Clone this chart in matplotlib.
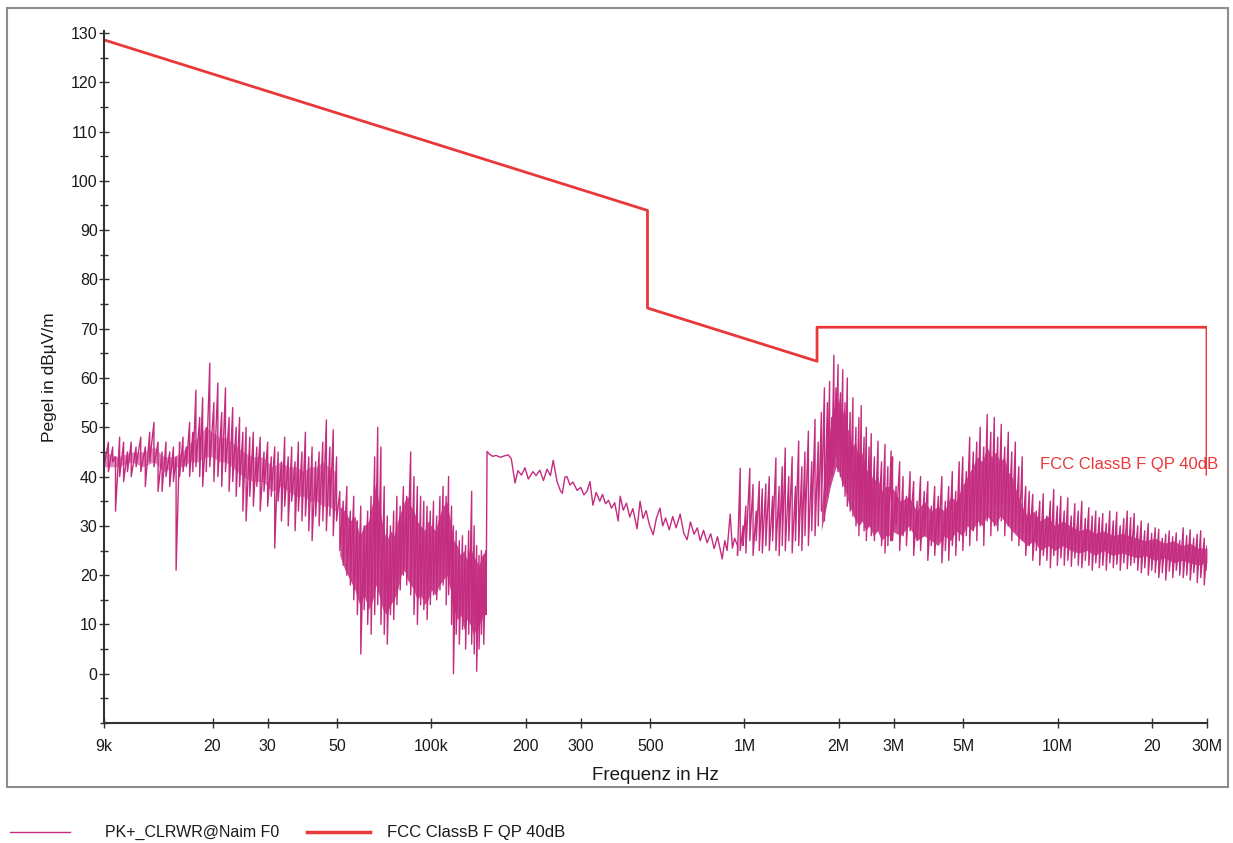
import numpy as np
import matplotlib
matplotlib.use("Agg")
import matplotlib.pyplot as plt
from matplotlib.lines import Line2D
from matplotlib.patches import Rectangle
from matplotlib.ticker import FixedLocator, MultipleLocator, NullLocator

plt.rcParams['font.family'] = ['Liberation Sans', 'DejaVu Sans']

# FCC Class B limit (QP, 40 dB extrapolation)
limit_hz = [9e3, 490e3, 490e3, 1.705e6, 1.705e6, 30e6, 30e6]
limit_db = [128.6, 94.0, 74.2, 63.4, 70.3, 70.3, 40.5]

# PK+ sweep.
# Noisy parts: per frequency slot the spike top (hi) and the valley after it (lo), dBuV/m
# 9k .. 50k
a_khz = [9.0, 9.3, 9.6, 9.8, 10.1, 10.4, 10.7, 11.0, 11.4, 11.8, 12.2, 12.6, 13.0, 13.4,
         13.8, 14.2, 14.6, 15.0, 15.3, 15.7, 16.1, 16.5, 16.9, 17.3, 17.7, 18.2, 18.6, 19.1,
         19.6, 20.2, 20.8, 21.4, 22.0, 22.6, 23.2, 23.8, 24.4, 25.0, 25.6, 26.3, 27.0, 27.7,
         28.4, 29.2, 30.0, 30.8, 31.6, 32.4, 33.2, 34.0, 34.9, 35.8, 36.7, 37.6, 38.6, 39.6,
         40.6, 41.6, 42.7, 43.8, 45.0, 46.2, 47.4, 48.6, 49.8]
a_hi = [51, 47, 46, 44, 48, 47, 45, 47, 46, 48, 46, 49, 51, 47,
        45, 47, 45, 46, 44, 47, 48, 46, 51, 49, 57.5, 52, 56, 50,
        63, 55, 59, 53, 58, 52, 54, 50, 52, 49, 50, 48, 49, 46,
        48, 45, 47, 44, 46, 45, 43, 48, 44, 46, 43, 47, 45, 49,
        44, 46, 43, 45, 47, 51.5, 46, 49.5, 44]
a_lo = [42, 41, 43, 33, 40, 39, 41, 40, 42, 41, 38, 43, 42, 37,
        37, 40, 38, 39, 21, 40, 41, 42, 40, 41, 42, 40, 38, 41,
        42, 39, 40, 38, 41, 37, 39, 36, 38, 33, 31, 36, 34, 38,
        33, 37, 34, 36, 25.5, 35, 31, 34, 30, 35, 29, 33, 31, 32,
        29, 27, 32, 30, 31, 29, 32, 28, 31]

# 50k .. 150k
b_khz = [51.0, 52.3, 53.7, 55.1, 56.5, 58.0, 59.5, 61.0, 62.6, 64.2, 65.9, 67.4, 69.0, 70.7,
         72.3, 74.0, 75.8, 77.6, 79.5, 81.4, 83.4, 85.9, 88.0, 90.2, 92.4, 94.6, 96.9, 99.2,
         101.6, 104.0, 106.5, 109.0, 111.5, 113.5, 116.0, 117.6, 120.0, 122.8, 125.7, 128.6,
         131.6, 134.5, 137.0, 139.5, 142.0, 144.5, 147.0, 149.5]
b_hi = [37, 35, 38, 33, 36, 31, 34, 30, 33, 36, 44, 50, 46, 38,
        32, 30, 33, 36, 34, 38, 36, 45, 40, 38, 36, 35, 34, 33,
        35, 32, 36, 38, 36, 40, 34, 30, 29, 27, 28, 26,
        29, 37, 30, 26, 24, 25, 24, 25]
b_lo = [25, 22, 20, 18, 15, 12, 4, 13, 10, 8, 12, 14, 10, 8,
        6, 12, 11, 14, 17, 20, 18, 16, 12, 10, 14, 13, 11, 14,
        16, 15, 17, 18, 14, 16, 10, 0, 8, 6, 9, 5,
        8, 6, 4, 0.5, 5, 8, 6, 12]

# 150k .. 930k: single wiggly line
c_khz = [150.6, 153, 157, 161, 166, 171, 176, 180, 185, 189, 194, 199, 204, 211, 216, 222,
         228, 234, 240, 245, 252, 258, 262, 267, 271, 277, 283, 292, 300, 307, 314, 321,
         328, 336, 345, 352, 360, 368, 376, 385, 395, 401, 410, 420, 430, 440, 454, 464,
         474, 485, 497, 511, 523, 537, 548, 560, 575, 590, 605, 623, 640, 656, 672, 690,
         707, 722, 740, 760, 780, 800, 820, 849, 865, 880, 900, 915, 930]
c_db = [45.1, 44.6, 44.1, 44.3, 43.9, 44.2, 44.4, 43.6, 38.7, 41.2, 40.3, 41.8, 39.5, 41.0, 40.2, 41.3,
        39.2, 41.5, 40.2, 43.3, 39.0, 37.2, 36.6, 39.9, 40.0, 38.3, 38.9, 37.2, 37.8, 36.3, 37.0, 39.0,
        34.2, 36.8, 35.0, 36.4, 34.5, 35.2, 33.6, 34.7, 31.0, 36.0, 33.2, 34.6, 31.8, 33.5, 29.4, 35.0,
        31.5, 33.1, 30.2, 28.2, 31.5, 33.6, 30.0, 31.6, 29.2, 31.9, 29.6, 32.4, 28.5, 27.2, 30.8, 28.3,
        29.6, 27.0, 29.1, 26.6, 28.4, 25.4, 27.8, 23.3, 27.0, 25.0, 32.4, 25.5, 27.5]

# 0.95M .. 2.94M
d_khz = [950, 969, 990, 1010, 1040, 1065, 1090, 1115, 1140, 1170, 1200, 1230, 1260, 1290,
         1320, 1350, 1385, 1420, 1455, 1490, 1525, 1560, 1600, 1640, 1680, 1720, 1760, 1800,
         1840, 1870, 1900, 1930, 1960, 1990, 2025, 2060, 2095, 2130, 2175, 2220, 2270, 2320,
         2360, 2410, 2450, 2500, 2540, 2600, 2670, 2740, 2810, 2870, 2940]
d_hi = [26, 41.7, 30, 34, 41.7, 38.4, 33, 39, 37.5, 38.5, 40, 36, 43.8, 38,
        42, 45.8, 40, 44, 38, 47.2, 42, 45, 49.2, 43, 51.6, 47, 53, 58,
        55, 59.3, 52, 64.6, 58, 62.7, 57, 61.7, 55, 60, 53, 56, 50, 52,
        54.4, 48, 50, 46, 48.7, 44, 47.2, 43, 46.5, 42, 45.2]
d_lo = [24, 25, 26, 24.5, 27, 24, 27, 25, 24.5, 26, 25, 27, 25, 24,
        26, 25, 27, 24.5, 27, 26, 25, 28, 26, 29, 28, 30, 33, 31,
        36, 38, 40, 42, 44, 41, 40, 38, 36, 34, 33, 32, 30, 28,
        31, 29, 27, 30, 28, 27, 29, 26, 24.5, 26, 27]

# 2.97M .. 30M
e_khz = [2970, 3050, 3130, 3210, 3290, 3380, 3470, 3560, 3650, 3750,
         3850, 3950, 4050, 4160, 4270, 4380, 4490, 4610, 4730, 4850,
         4980, 5110, 5240, 5380, 5520, 5660, 5810, 5960, 6120, 6280,
         6440, 6610, 6780, 6960, 7140, 7330, 7520, 7710, 7910, 8120,
         8330, 8550, 8770, 9000, 9240, 9480, 9720, 9980, 10240, 10500,
         10780, 11060, 11350, 11640, 11950, 12260, 12580, 12900, 13240, 13590,
         13940, 14300, 14680, 15060, 15450, 15850, 16270, 16690, 17120, 17570,
         18030, 18500, 18980, 19480, 19980, 20500, 21040, 21590, 22150, 22730,
         23320, 23930, 24550, 25190, 25850, 26520, 27210, 27920, 28650, 29400, 30000]
e_hi = [44, 38, 43, 40, 36, 41, 39, 35, 40, 37,
        39, 34, 38, 36, 40, 35, 38, 41, 37, 43,
        44, 41, 48, 45, 47, 50, 46, 52.6, 49, 52,
        48, 50.6, 46, 49, 45, 47, 42, 44, 38, 37,
        36.4, 33, 35, 36.5, 32, 35, 37.4, 34, 36, 33,
        35.7, 32, 34.5, 33, 35, 31.5, 33.7, 32, 33, 31.7,
        32.5, 30.5, 33, 31, 32.8, 30, 31.5, 33, 31.7, 32.5,
        30, 31, 29, 30.5, 28.5, 29.6, 29.3, 27.5, 28.3, 29,
        27.8, 28.6, 27, 29.6, 28, 29.2, 27.5, 28.3, 29, 27.5, 26]
e_lo = [27, 30, 25, 28, 26, 29, 24, 27, 25, 28,
        23, 26, 24, 27, 22.5, 25, 23, 26, 24, 27,
        25, 28, 26, 29, 27, 30, 26, 31, 28, 30,
        29, 31, 28, 30, 27, 29, 26, 27, 24, 26,
        23, 25, 22, 24, 23, 21.5, 24, 22, 23.5, 22,
        23, 21.8, 23.5, 22, 21.5, 23, 22, 21, 22.5, 21.5,
        22, 21, 22.5, 21.5, 22.2, 21, 22.5, 21.3, 22, 22.5,
        21, 20.5, 21.5, 20, 21, 20.5, 19.5, 20.5, 19, 20.8,
        19.5, 21, 20, 19.5, 20, 19, 20.5, 18.5, 19.5, 18, 21]

# solid core of the dense regions: frequency, lower and upper edge
lf_khz = [9, 10, 11, 12, 13, 14, 15, 16, 17, 18, 19, 20, 21, 22, 23, 24, 25, 27, 29, 31,
          33, 35, 37, 39, 41, 43, 45, 47, 49.5]
lf_lo = [42, 42, 43, 42, 43, 41, 42, 42, 43, 43, 44, 44, 43, 43, 42, 41, 40, 39, 39, 37,
         38, 37, 36, 36, 35, 35, 34, 34, 33]
lf_hi = [45, 44, 45, 45, 46, 44, 44, 45, 47, 48, 50, 49, 48, 48, 47, 46, 45, 44, 44, 42,
         43, 42, 42, 41, 42, 42, 43, 42, 41]

core_khz = [51, 53, 55, 57, 59, 61, 63, 65, 66.5, 68, 70, 72, 74, 76, 78, 80, 82, 84, 86, 88,
            90, 92.5, 95, 97.5, 100, 103, 106, 109, 112, 115, 118, 121, 124, 127, 130, 133,
            136, 139, 142, 145, 149]
core_lo = [24, 21, 19, 17, 14, 16, 13, 15, 18, 16, 13, 12, 14, 15, 17, 20, 21, 19, 18, 17,
           15, 16, 14, 15, 17, 16, 18, 19, 20, 17, 13, 11, 12, 9, 11, 10, 8, 9, 10, 11, 14]
core_hi = [34, 33, 31, 32, 28, 30, 31, 35, 39, 34, 30, 27, 29, 28, 31, 33, 35, 36, 34, 33,
           31, 30, 29, 31, 30, 29, 32, 34, 35, 31, 27, 26, 24, 25, 23, 26, 24, 23, 22, 24, 25]

peak_khz = [1760, 1800, 1840, 1880, 1920, 1960, 2000, 2040, 2080, 2120, 2160, 2200, 2260, 2320,
            2380, 2440, 2500, 2580, 2660, 2740, 2820, 2900]
peak_lo = [29, 32, 35, 38, 40, 42, 41, 39, 38, 36, 34, 33, 31, 30, 31, 29, 30, 28, 29, 27, 28, 28]
peak_hi = [34, 40, 45, 50, 54, 53, 56, 52, 54, 49, 50, 46, 47, 43, 45, 41, 42, 39, 40, 37, 38, 38]

hf_khz = [2950, 3150, 3350, 3550, 3750, 3950, 4150, 4350, 4550, 4750, 4950, 5150, 5350, 5550,
          5750, 5950, 6150, 6350, 6550, 6750, 6950, 7150, 7400, 7700, 8000, 8400, 8800, 9300,
          9800, 10400, 11000, 11700, 12400, 13200, 14000, 15000, 16000, 17000, 18000, 19000,
          20500, 22000, 23500, 25000, 26500, 28000, 30000]
hf_lo = [29, 28, 30, 27, 28, 27, 26, 28, 27, 29, 28, 30, 29, 31, 30, 32, 31, 30, 32, 31,
         30, 29, 28, 27, 26, 27, 25, 26, 25, 26, 25, 24.5, 25, 24, 25, 24, 24.5, 24, 23.5, 24,
         23, 23.5, 22.5, 23, 22.5, 22, 22.5]
hf_hi = [38, 35, 36, 33, 35, 33, 34, 33, 36, 35, 38, 40, 42, 44, 43, 46, 44, 45, 43, 44,
         41, 40, 37, 34, 32, 33, 31, 32, 30, 31, 30, 29, 29.5, 28.5, 29, 28, 28.5, 28, 27.5, 27,
         27.5, 26.5, 27, 26, 26.5, 25.5, 25.5]

xtick_hz = [9e3, 20e3, 30e3, 50e3, 100e3, 200e3, 300e3, 500e3, 1e6, 2e6, 3e6, 5e6, 10e6, 20e6, 30e6]
xtick_labels = ["9k", "20", "30", "50", "100k", "200", "300", "500",
                "1M", "2M", "3M", "5M", "10M", "20", "30M"]

trace_col = "#c42c80"
limit_col = "#e8383a"


def zigzag(khz, hi, lo):
    # spike top then valley for every slot
    x = np.repeat(np.asarray(khz, float) * 1e3, 2)
    y = np.column_stack([hi, lo]).ravel()
    return x, y


fig = plt.figure(figsize=(12.33, 8.43), dpi=100)
ax = fig.add_axes([0.0843, 0.1423, 0.8946, 0.8215])

parts = [zigzag(a_khz, a_hi, a_lo), zigzag(b_khz, b_hi, b_lo),
         (np.asarray(c_khz, float) * 1e3, np.asarray(c_db, float)),
         zigzag(d_khz, d_hi, d_lo), zigzag(e_khz, e_hi, e_lo)]
sx = np.concatenate([p[0] for p in parts])
sy = np.concatenate([p[1] for p in parts])

ax.fill_between(np.array(lf_khz) * 1e3, lf_lo, lf_hi, color=trace_col, lw=0, alpha=0.55)
for f, l, h in [(core_khz, core_lo, core_hi), (peak_khz, peak_lo, peak_hi), (hf_khz, hf_lo, hf_hi)]:
    ax.fill_between(np.array(f) * 1e3, l, h, color=trace_col, lw=0, alpha=0.85)
ax.plot(sx, sy, color=trace_col, lw=1.0)

ax.plot(limit_hz, limit_db, color=limit_col, lw=2.0)
ax.text(1.01, 42.5, "FCC ClassB F QP 40dB", transform=ax.get_yaxis_transform(),
        color=limit_col, fontsize=12, ha="right", va="center")

ax.set_xscale("log")
ax.set_xlim(9e3, 30e6)
ax.set_ylim(-10, 130.5)
ax.xaxis.set_major_locator(FixedLocator(xtick_hz))
ax.xaxis.set_minor_locator(NullLocator())
ax.set_xticklabels(xtick_labels)
ax.yaxis.set_major_locator(FixedLocator(list(range(0, 131, 10))))
ax.yaxis.set_minor_locator(MultipleLocator(5))
ax.tick_params(axis="both", which="major", direction="inout", length=7, width=1.0,
               labelsize=11.5, colors="#333333", labelcolor="#1a1a1a")
ax.tick_params(axis="y", which="minor", direction="inout", length=6, width=1.0, colors="#333333")
ax.tick_params(axis="x", pad=8)
ax.tick_params(axis="y", pad=1)

ax.spines["top"].set_visible(False)
ax.spines["right"].set_visible(False)
for s in ("left", "bottom"):
    ax.spines[s].set_color("#333333")
    ax.spines[s].set_linewidth(1.5)

ax.set_xlabel("Frequenz in Hz", fontsize=13.5, labelpad=9, color="#1a1a1a")
ax.set_ylabel("Pegel in dBµV/m", fontsize=12.5, labelpad=10, color="#1a1a1a")

# outer frame and legend strip below it
fig.patches.append(Rectangle((0.0057, 0.0664), 0.990, 0.924, transform=fig.transFigure,
                             fill=False, edgecolor="#8c8c8c", lw=1.5))
fig.add_artist(Line2D([0.0081, 0.0568], [0.013, 0.013], color=trace_col, lw=1.0))
fig.text(0.0852, 0.013, "PK+_CLRWR@Naim F0", fontsize=11.5, va="center", color="#1a1a1a")
fig.add_artist(Line2D([0.249, 0.300], [0.013, 0.013], color=limit_col, lw=2.5))
fig.text(0.314, 0.013, "FCC ClassB F QP 40dB", fontsize=12, va="center", color="#1a1a1a")

fig.savefig("out.png", dpi=100)
